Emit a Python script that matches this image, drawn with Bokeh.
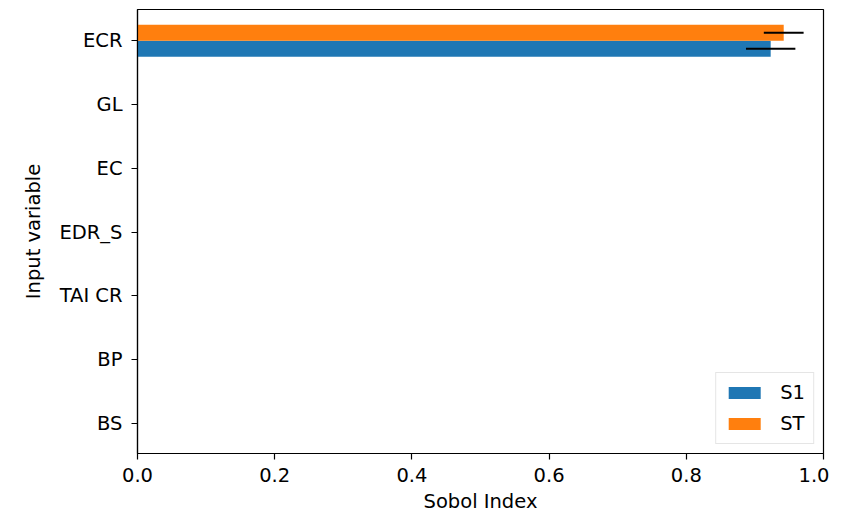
from bokeh.plotting import figure
from bokeh.models import ColumnDataSource, Range1d, FixedTicker, PrintfTickFormatter, Legend, LegendItem
from bokeh.transform import dodge
from bokeh.embed import file_html
from bokeh.resources import INLINE

categories = ["BS", "BP", "TAI CR", "EDR_S", "EC", "GL", "ECR"]
s1 = [0.0, 0.0, 0.0, 0.0, 0.0, 0.0, 0.923]
s1_conf = [0.0, 0.0, 0.0, 0.0, 0.0, 0.0, 0.036]
st = [0.0, 0.0, 0.0, 0.0, 0.0, 0.0, 0.942]
st_conf = [0.0, 0.0, 0.0, 0.0, 0.0, 0.0, 0.029]
x_ticks = [0.0, 0.2, 0.4, 0.6, 0.8, 1.0]

FONT = "DejaVu Sans"
FS = "19.5px"
idx = list(range(len(categories)))
src = ColumnDataSource(dict(
    y=idx, s1=s1, st=st,
    s1_lo=[v - c for v, c in zip(s1, s1_conf)], s1_hi=[v + c for v, c in zip(s1, s1_conf)],
    st_lo=[v - c for v, c in zip(st, st_conf)], st_hi=[v + c for v, c in zip(st, st_conf)],
))

p = figure(width=829, height=515, output_backend="svg", toolbar_location=None,
           x_range=Range1d(0, 1), y_range=Range1d(-0.47, 6.49),
           min_border_left=137, min_border_right=6, min_border_top=9, min_border_bottom=0)

bar_h = 0.25
r1 = p.hbar(y=dodge("y", -0.125), right="s1", left=0, height=bar_h, source=src,
            fill_color="#1f77b4", line_color=None)
r2 = p.hbar(y=dodge("y", 0.125), right="st", left=0, height=bar_h, source=src,
            fill_color="#ff7f0e", line_color=None)
p.segment(x0="s1_lo", x1="s1_hi", y0=dodge("y", -0.125), y1=dodge("y", -0.125),
          source=src, line_color="black", line_width=2)
p.segment(x0="st_lo", x1="st_hi", y0=dodge("y", 0.125), y1=dodge("y", 0.125),
          source=src, line_color="black", line_width=2)

legend = Legend(items=[LegendItem(label="S1", renderers=[r1]), LegendItem(label="ST", renderers=[r2])],
                location="bottom_right", margin=9, padding=8, spacing=8,
                glyph_width=40, glyph_height=15, label_height=20, label_standoff=16,
                label_text_font=FONT, label_text_font_size=FS, label_text_color="black",
                border_line_color="#cccccc", border_line_width=1, background_fill_alpha=0.8)
p.add_layout(legend)

p.xgrid.visible = False
p.ygrid.visible = False
p.outline_line_color = "black"
p.outline_line_width = 1.2

p.xaxis.ticker = FixedTicker(ticks=x_ticks)
p.xaxis.formatter = PrintfTickFormatter(format="%.1f")
p.yaxis.ticker = FixedTicker(ticks=idx)
p.yaxis.major_label_overrides = {i: c for i, c in zip(idx, categories)}

p.xaxis.axis_label = "Sobol Index"
p.yaxis.axis_label = "Input variable"
for ax in (p.xaxis[0], p.yaxis[0]):
    ax.axis_line_color = "black"
    ax.axis_line_width = 1.2
    ax.major_tick_line_color = "black"
    ax.major_tick_line_width = 1.2
    ax.major_tick_out = 6
    ax.major_tick_in = 0
    ax.minor_tick_line_color = None
    ax.major_label_text_font = FONT
    ax.major_label_text_font_size = FS
    ax.major_label_text_color = "black"
    ax.axis_label_text_font = FONT
    ax.axis_label_text_font_size = FS
    ax.axis_label_text_font_style = "normal"
    ax.axis_label_text_color = "black"
p.xaxis.major_label_standoff = 8
p.yaxis.major_label_standoff = 9
p.xaxis.axis_label_standoff = 5
p.yaxis.axis_label_standoff = 11

open("out.html", "w").write(file_html(p, INLINE))
